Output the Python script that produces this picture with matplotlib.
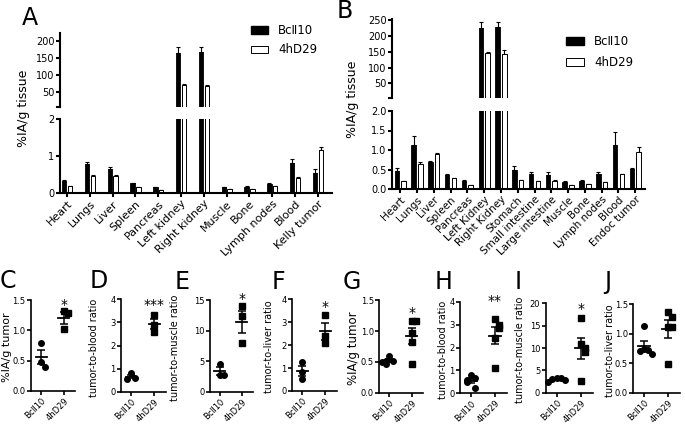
import numpy as np
import matplotlib
matplotlib.use("Agg")
import matplotlib.pyplot as plt
from matplotlib.patches import Patch

plt.rcParams['font.family'] = ['DejaVu Sans']

# ---------------- data ----------------
groups = ["Bc\u216110", "4hD29"]

organs_A = ['Heart', 'Lungs', 'Liver', 'Spleen', 'Pancreas', 'Left kidney', 'Right kidney',
            'Muscle', 'Bone', 'Lymph nodes', 'Blood', 'Kelly tumor']
A_bc = [0.33, 0.78, 0.64, 0.26, 0.15, 163, 166, 0.15, 0.17, 0.24, 0.80, 0.55]
A_bc_err = [0.03, 0.05, 0.07, 0.02, 0.02, 17, 16, 0.01, 0.01, 0.02, 0.11, 0.11]
A_4h = [0.18, 0.46, 0.46, 0.15, 0.07, 70, 67, 0.11, 0.11, 0.18, 0.41, 1.16]
A_4h_err = [0.01, 0.02, 0.02, 0.01, 0.01, 2, 3, 0.01, 0.01, 0.01, 0.01, 0.08]

organs_B = ['Heart', 'Lungs', 'Liver', 'Spleen', 'Pancreas', 'Left Kidney', 'Right Kidney',
            'Stomach', 'Small intestine', 'Large intestine', 'Muscle', 'Bone',
            'Lymph nodes', 'Blood', 'Endoc tumor']
B_bc = [0.46, 1.14, 0.68, 0.36, 0.21, 224, 227, 0.49, 0.39, 0.36, 0.19, 0.20, 0.38, 1.12, 0.52]
B_bc_err = [0.08, 0.22, 0.05, 0.03, 0.02, 18, 17, 0.11, 0.05, 0.07, 0.01, 0.03, 0.06, 0.33, 0.03]
B_4h = [0.205, 0.65, 0.90, 0.27, 0.10, 146, 144, 0.23, 0.20, 0.21, 0.10, 0.13, 0.17, 0.38, 0.95]
B_4h_err = [0.01, 0.03, 0.02, 0.01, 0.01, 4, 10, 0.01, 0.01, 0.01, 0.01, 0.01, 0.01, 0.01, 0.13]

C_bc = [0.79, 0.48, 0.40]
C_4h = [1.32, 1.28, 1.02]
D_bc = [0.82, 0.60, 0.55]
D_4h = [3.30, 2.90, 2.60]
E_bc = [4.6, 2.7, 2.8]
E_4h = [14.0, 12.4, 7.9]
F_bc = [1.25, 0.84, 0.51]
F_4h = [3.30, 2.39, 2.10]
G_bc = [0.59, 0.52, 0.52, 0.47, 0.50]
G_4h = [1.17, 1.17, 0.97, 0.82, 0.46]
H_bc = [0.80, 0.65, 0.58, 0.48, 0.25]
H_4h = [3.25, 3.00, 2.85, 2.40, 1.10]
I_bc = [3.4, 3.2, 3.0, 2.8, 2.3]
I_4h = [16.8, 11.0, 10.0, 9.0, 2.7]
J_bc = [1.13, 0.75, 0.72, 0.70, 0.66]
J_4h = [1.37, 1.29, 1.12, 1.12, 0.49]

# ---------------- layout helpers ----------------
W, H = 685, 425
fig = plt.figure(figsize=(W / 100, H / 100), dpi=100)


def px_axes(l, t, r, b):
    return fig.add_axes([l / W, 1 - b / H, (r - l) / W, (b - t) / H])


def ftext(x, y, s, **kw):
    return fig.text(x / W, 1 - y / H, s, **kw)


SLW = 1.5


def bar_panel(up_box, lo_box, cats, bc, bce, h4, h4e, off, width, up_ylim, up_ticks,
              lo_ticks, lo_ticklabels, xlim, catfs):
    axu = px_axes(*up_box)
    axl = px_axes(*lo_box)
    x = np.arange(len(cats))
    bc = np.asarray(bc, float)
    h4 = np.asarray(h4, float)
    for ax, lim in ((axu, up_ylim[0]), (axl, -1)):
        b1 = np.where(bc > lim, bc, np.nan)
        b2 = np.where(h4 > lim, h4, np.nan)
        ax.bar(x - off, b1, width, color='black', edgecolor='black', linewidth=0.6, zorder=2)
        ax.bar(x + off, b2, width, color='white', edgecolor='black', linewidth=0.7, zorder=2)
        ax.errorbar(x - off, b1, yerr=[np.zeros(len(bc)), bce], fmt='none', ecolor='black',
                    elinewidth=0.8, capsize=1.3, capthick=0.8, zorder=1)
        ax.errorbar(x + off, b2, yerr=[np.zeros(len(h4)), h4e], fmt='none', ecolor='black',
                    elinewidth=0.8, capsize=1.3, capthick=0.8, zorder=1)
        ax.set_xlim(*xlim)
        for s in ('top', 'right'):
            ax.spines[s].set_visible(False)
        ax.spines['left'].set_linewidth(SLW)
        ax.spines['bottom'].set_linewidth(SLW)
        ax.tick_params(width=SLW, length=3, labelsize=7, pad=1)
        ax.set_facecolor('none')
    axu.spines['bottom'].set_visible(False)
    axu.set_xticks([])
    axu.set_ylim(*up_ylim)
    axu.set_yticks(up_ticks)
    axl.set_ylim(0, 2)
    axl.set_yticks(lo_ticks)
    axl.set_yticklabels(lo_ticklabels)
    axl.set_xticks(x)
    axl.set_xticklabels(cats, rotation=45, ha='right', rotation_mode='anchor', fontsize=catfs)
    axl.tick_params(axis='x', length=3, pad=1)
    # small cap at the broken end of the y axis
    axu.plot([-0.012, 0.0], [0, 0], transform=axu.transAxes, color='black', lw=SLW, clip_on=False)
    return axu, axl


# Panel A
bar_panel((60, 33, 332, 107), (60, 119, 332, 193), organs_A, A_bc, A_bc_err, A_4h, A_4h_err,
          0.127, 0.19, (6, 222), [50, 100, 150, 200], [0, 1, 2], ['0', '1', '2'],
          (-0.31, 11.62), 8)
ftext(24, 108.5, '%IA/g tissue', rotation=90, ha='center', va='center', fontsize=9)

# Panel B
bar_panel((392, 19.3, 645, 98.3), (392, 111, 645, 189), organs_B, B_bc, B_bc_err, B_4h, B_4h_err,
          0.2, 0.27, (3, 252), [50, 100, 150, 200, 250], [0, 0.5, 1, 1.5, 2],
          ['0.0', '0.5', '1.0', '1.5', '2.0'], (-0.49, 14.58), 7.5)
ftext(353, 99, '%IA/g tissue', rotation=90, ha='center', va='center', fontsize=9)

legend_handles = [Patch(facecolor='black', edgecolor='black', label=groups[0]),
                  Patch(facecolor='white', edgecolor='black', linewidth=0.7, label=groups[1])]
fig.legend(handles=legend_handles, loc='upper left', bbox_to_anchor=(251 / W, 1 - 24 / H),
           frameon=False, fontsize=8.5, handlelength=1.4, handleheight=0.6,
           handletextpad=0.9, labelspacing=0.55, borderaxespad=0, borderpad=0)
fig.legend(handles=legend_handles, loc='upper left', bbox_to_anchor=(566 / W, 1 - 35 / H),
           frameon=False, fontsize=8.5, handlelength=1.5, handleheight=0.6,
           handletextpad=0.9, labelspacing=0.7, borderaxespad=0, borderpad=0)


# ---------------- scatter panels ----------------
def spread(vals, span):
    """Horizontal offsets so that close values do not overlap."""
    vals = np.asarray(vals, float)
    offs = np.zeros(len(vals))
    thr = span * 0.07
    placed = []
    for i, v in enumerate(vals):
        near = [j for j in placed if abs(vals[j] - v) < thr]
        k = len(near)
        offs[i] = 0 if k == 0 else (0.17 * ((k + 1) // 2) * (1 if k % 2 else -1))
        placed.append(i)
    return offs


def scatter_panel(box, bc, h4, ylim, yticks, yticklabels, ylabel, ylfs, lab_x,
                  star=None, star_y=None):
    ax = px_axes(*box)
    span = ylim[1] - ylim[0]
    for i, (vals, mk) in enumerate(((bc, 'o'), (h4, 's'))):
        vals = np.asarray(vals, float)
        xs = i + spread(vals, span)
        ax.plot(xs, vals, linestyle='none', marker=mk, ms=4, color='black', zorder=3, clip_on=False)
        m = vals.mean()
        sem = vals.std(ddof=1) / np.sqrt(len(vals))
        ax.plot([i - 0.25, i + 0.25], [m, m], color='black', lw=1.3, zorder=2)
        ax.errorbar([i], [m], yerr=[[sem], [sem]], fmt='none', ecolor='black', elinewidth=1.1,
                    capsize=3, capthick=1.1, zorder=2)
    ax.set_xlim(-0.45, 1.5)
    ax.set_ylim(*ylim)
    ax.set_yticks(yticks)
    ax.set_yticklabels(yticklabels)
    ax.set_xticks([0, 1])
    ax.set_xticklabels(groups, rotation=45, ha='right', rotation_mode='anchor')
    for s in ('top', 'right'):
        ax.spines[s].set_visible(False)
    ax.spines['left'].set_linewidth(1.2)
    ax.spines['bottom'].set_linewidth(1.2)
    ax.tick_params(width=1.2, length=3, labelsize=6, pad=1)
    ftext(lab_x, (box[1] + box[3]) / 2 + 2, ylabel, rotation=90, ha='center', va='center',
          fontsize=ylfs)
    ax.set_facecolor('none')
    if star:
        ax.text(1, star_y, star, ha='center', va='center', fontsize=10)
    return ax


scatter_panel((31, 300, 75, 391), C_bc, C_4h, (0, 1.5), [0, 0.5, 1, 1.5],
              ['0.0', '0.5', '1.0', '1.5'], '%IA/g tumor', 8, 7, '*', 1.42)
scatter_panel((121, 299.3, 166, 391.7), D_bc, D_4h, (0, 4), [0, 1, 2, 3, 4],
              ['0', '1', '2', '3', '4'], 'tumor-to-blood ratio', 7, 94, '***', 3.75)
scatter_panel((210, 300, 253, 391.7), E_bc, E_4h, (0, 15), [0, 5, 10, 15],
              ['0', '5', '10', '15'], 'tumor-to-muscle ratio', 7, 175, '*', 15.2)
scatter_panel((292, 299.3, 337, 391), F_bc, F_4h, (0, 4), [0, 1, 2, 3, 4],
              ['0', '1', '2', '3', '4'], 'tumor-to-liver ratio', 7, 269, '*', 3.65)
scatter_panel((379.3, 300.3, 423, 392.7), G_bc, G_4h, (0, 1.5), [0, 0.5, 1, 1.5],
              ['0.0', '0.5', '1.0', '1.5'], '%IA/g tumor', 8.5, 354, '*', 1.30)
scatter_panel((460, 301.7, 507, 393.3), H_bc, H_4h, (0, 4), [0, 1, 2, 3, 4],
              ['0', '1', '2', '3', '4'], 'tumor-to-blood ratio', 7, 443, '**', 4.05)
scatter_panel((545.7, 303.3, 593, 392.7), I_bc, I_4h, (0, 20), [0, 5, 10, 15, 20],
              ['0', '5', '10', '15', '20'], 'tumor-to-muscle ratio', 7, 520, '*', 18.8)
scatter_panel((633.3, 304.3, 680, 392.7), J_bc, J_4h, (0, 1.5), [0, 0.5, 1, 1.5],
              ['0.0', '0.5', '1.0', '1.5'], 'tumor-to-liver ratio', 7, 610)

# panel letters
letters = [('A', 22, 25), ('B', 337, 18), ('C', 0, 288), ('D', 90, 288), ('E', 175, 289),
           ('F', 272, 289), ('G', 343, 289), ('H', 435, 289), ('I', 515, 289), ('J', 604, 289)]
for L, x, y in letters:
    ftext(x, y, L, fontsize=17, ha='left', va='baseline')

fig.savefig('out.png', dpi=100)
